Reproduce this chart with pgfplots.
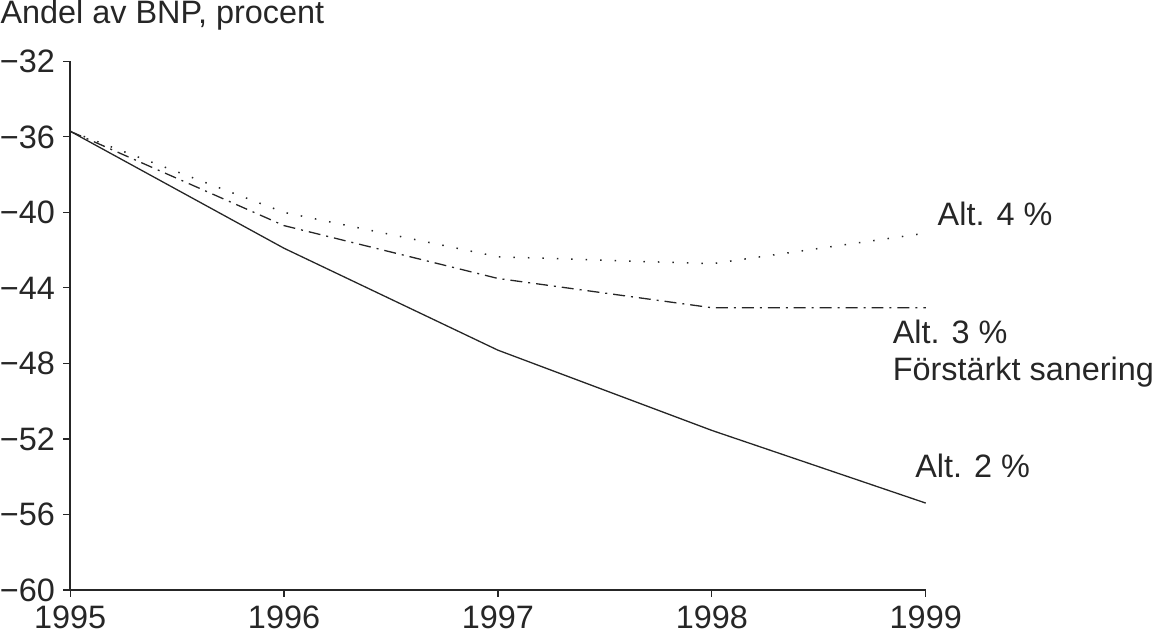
\documentclass[border=0pt]{standalone}
\usepackage{fontspec}
\setmainfont{Liberation Sans}
\usepackage{pgfplots}
\pgfplotsset{compat=1.18}
\begin{document}
\fontsize{32.5bp}{37bp}\selectfont
\begin{tikzpicture}
\begin{axis}[
  scale only axis,
  width=858bp, height=530bp,
  xmin=1995, xmax=1999, ymin=-60, ymax=-32,
  axis lines*=left,
  axis line style={line width=1.3bp, black!85},
  xtick={1995,1996,1997,1998,1999},
  xticklabels={1995,1996,1997,1998,1999},
  ytick={-60,-56,-52,-48,-44,-40,-36,-32},
  yticklabels={−60,−56,−52,−48,−44,−40,−36,−32},
  tick align=outside,
  major tick length=7bp,
  tick style={line width=1.2bp, black!85},
  ticklabel style={font=\fontsize{32.5bp}{37bp}\selectfont, text=black!85, inner sep=0pt},
  xticklabel style={yshift=-9bp},
  yticklabel style={xshift=-8bp},
  clip=false,
]
\addplot[line width=1.3bp, black!85] coordinates {(1995,-35.7) (1996,-41.9) (1997,-47.3) (1998,-51.55) (1999,-55.4)};
\addplot[line width=1.3bp, black!85, dash pattern=on 12bp off 6bp on 2bp off 6bp] coordinates {(1995,-35.7) (1996,-40.7) (1997,-43.5) (1998,-45.05) (1999,-45.05)};
\addplot[line width=1.5bp, black!85, dash pattern=on 1.5bp off 13bp] coordinates {(1995,-35.7) (1996,-40.0) (1997,-42.35) (1998,-42.72) (1999,-41.1)};
\node[anchor=west, inner sep=0pt, text=black!85] at (axis cs:1999.055,-40.1) {Alt. 4 \%};
\node[anchor=north west, inner sep=0pt, align=left, text=black!85] at (axis cs:1998.845,-45.7) {Alt. 3 \%\\Förstärkt sanering};
\node[anchor=west, inner sep=0pt, text=black!85] at (axis cs:1998.95,-53.45) {Alt. 2 \%};
\node[anchor=base west, inner sep=0pt, text=black!85] at ([xshift=-70bp, yshift=38bp]rel axis cs:0,1) {Andel av BNP, procent};
\path ([yshift=-43bp]rel axis cs:0,0) -- ([yshift=-43bp]rel axis cs:1,0);
\end{axis}
\end{tikzpicture}
\end{document}
